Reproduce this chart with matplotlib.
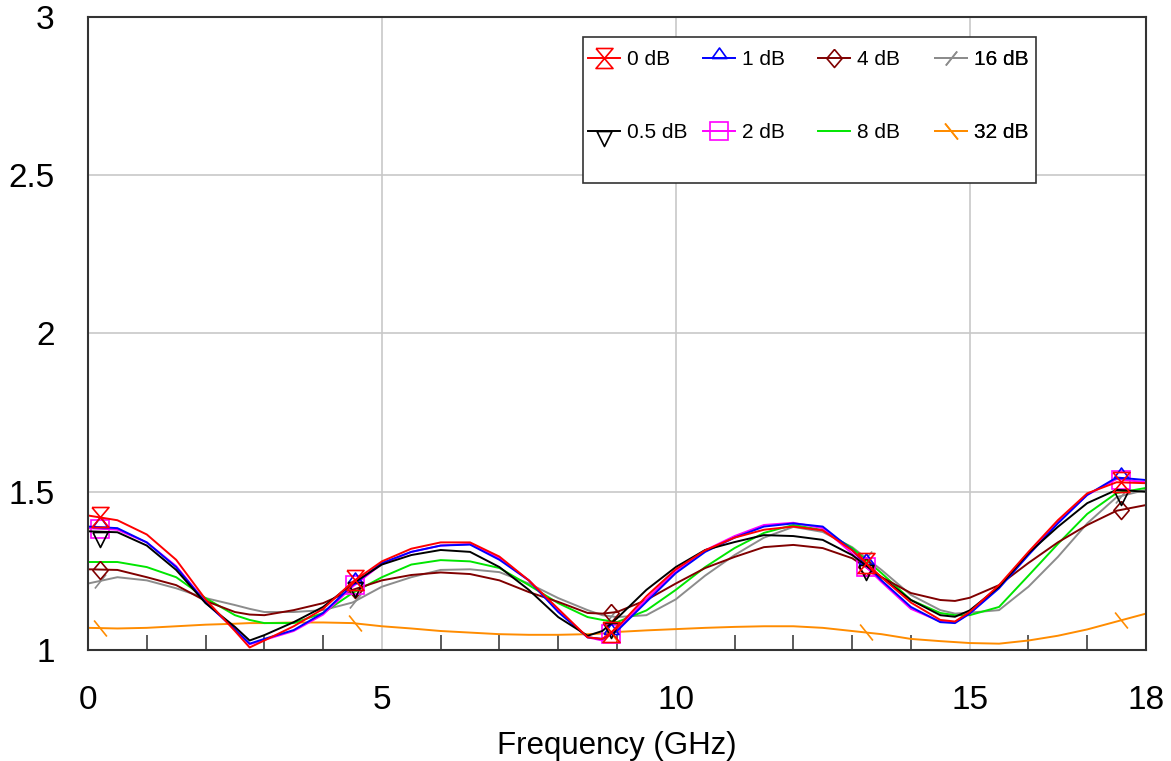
import numpy as np
import matplotlib
matplotlib.use("Agg")
import matplotlib.pyplot as plt
from matplotlib.path import Path
from matplotlib.lines import Line2D
from matplotlib.patches import Rectangle

plt.rcParams['font.family'] = ['Liberation Sans', 'DejaVu Sans']

# ---------------- data ----------------
freq = [0, 0.5, 1, 1.5, 2, 2.5, 2.75, 3, 3.5, 4, 4.5, 5, 5.5, 6, 6.5, 7, 7.5, 8, 8.5, 8.75,
        9, 9.5, 10, 10.5, 11, 11.5, 12, 12.5, 13, 13.5, 14, 14.5, 14.75, 15, 15.5, 16, 16.5, 17, 17.5, 18]

att_0db = [1.425, 1.41, 1.365, 1.285, 1.16, 1.06, 1.008, 1.03, 1.075, 1.13, 1.215, 1.28, 1.32, 1.34, 1.34, 1.295, 1.22, 1.13, 1.04, 1.035,
           1.07, 1.17, 1.255, 1.315, 1.355, 1.38, 1.39, 1.378, 1.315, 1.23, 1.15, 1.095, 1.09, 1.12, 1.205, 1.31, 1.41, 1.495, 1.53, 1.527]
att_05db = [1.375, 1.372, 1.33, 1.253, 1.148, 1.073, 1.03, 1.047, 1.088, 1.136, 1.21, 1.27, 1.30, 1.316, 1.31, 1.262, 1.19, 1.104, 1.045, 1.06,
            1.1, 1.19, 1.262, 1.316, 1.341, 1.363, 1.36, 1.348, 1.30, 1.23, 1.158, 1.11, 1.105, 1.125, 1.2, 1.306, 1.389, 1.464, 1.506, 1.50]
att_1db = [1.39, 1.385, 1.34, 1.262, 1.15, 1.065, 1.02, 1.035, 1.063, 1.117, 1.205, 1.275, 1.31, 1.33, 1.333, 1.285, 1.22, 1.12, 1.04, 1.035,
           1.06, 1.152, 1.243, 1.31, 1.355, 1.39, 1.40, 1.39, 1.316, 1.22, 1.136, 1.088, 1.085, 1.115, 1.195, 1.30, 1.40, 1.49, 1.545, 1.537]
att_2db = [1.385, 1.38, 1.34, 1.265, 1.152, 1.065, 1.018, 1.032, 1.06, 1.112, 1.2, 1.272, 1.31, 1.33, 1.335, 1.29, 1.22, 1.125, 1.04, 1.03,
           1.065, 1.16, 1.25, 1.315, 1.36, 1.395, 1.402, 1.385, 1.305, 1.215, 1.13, 1.09, 1.088, 1.115, 1.2, 1.305, 1.405, 1.49, 1.54, 1.53]
att_4db = [1.255, 1.253, 1.23, 1.205, 1.155, 1.12, 1.112, 1.11, 1.126, 1.148, 1.19, 1.22, 1.237, 1.245, 1.24, 1.22, 1.183, 1.152, 1.117, 1.115,
           1.12, 1.158, 1.21, 1.259, 1.294, 1.325, 1.332, 1.322, 1.29, 1.23, 1.18, 1.158, 1.155, 1.165, 1.205, 1.275, 1.34, 1.395, 1.44, 1.458]
att_8db = [1.278, 1.278, 1.262, 1.23, 1.164, 1.11, 1.095, 1.085, 1.085, 1.117, 1.18, 1.23, 1.27, 1.284, 1.28, 1.259, 1.205, 1.148, 1.104, 1.095,
           1.088, 1.125, 1.19, 1.262, 1.322, 1.37, 1.395, 1.379, 1.322, 1.243, 1.158, 1.117, 1.11, 1.11, 1.136, 1.235, 1.335, 1.43, 1.496, 1.512]
att_16db = [1.21, 1.23, 1.22, 1.195, 1.164, 1.142, 1.13, 1.12, 1.12, 1.126, 1.15, 1.2, 1.23, 1.253, 1.255, 1.246, 1.21, 1.164, 1.126, 1.11,
            1.104, 1.11, 1.16, 1.235, 1.30, 1.355, 1.389, 1.373, 1.325, 1.253, 1.174, 1.126, 1.115, 1.118, 1.126, 1.2, 1.294, 1.40, 1.483, 1.506]
att_32db = [1.07, 1.068, 1.07, 1.075, 1.08, 1.083, 1.085, 1.085, 1.087, 1.087, 1.085, 1.075, 1.068, 1.06, 1.055, 1.05, 1.048, 1.048, 1.05, 1.052,
            1.057, 1.062, 1.066, 1.07, 1.073, 1.075, 1.075, 1.07, 1.06, 1.05, 1.035, 1.028, 1.025, 1.022, 1.02, 1.03, 1.045, 1.065, 1.09, 1.115]

labels = ["0 dB", "0.5 dB", "1 dB", "2 dB", "4 dB", "8 dB", "16 dB", "32 dB"]
marker_freqs = [0.2, 4.54, 8.9, 13.23, 17.57]

x_ticks = [0, 5, 10, 15, 18]
x_tick_labels = ["0", "5", "10", "15", "18"]
y_ticks = [1, 1.5, 2, 2.5, 3]
y_tick_labels = ["1", "1.5", "2", "2.5", "3"]

# ---------------- styles ----------------
hourglass = Path([(-0.85, 1), (0.85, 1), (-0.85, -1), (0.85, -1), (-0.85, 1)])
tri_down = Path([(-0.5, 0), (0.5, 0), (0, -1), (-0.5, 0)])
tri_up = Path([(-0.5, 0), (0.5, 0), (0, 0.7), (-0.5, 0)])
diamond = Path([(0, 1), (0.85, 0), (0, -1), (-0.85, 0), (0, 1)])
slash = Path([(-0.8, -1), (0.8, 1)])
backslash = Path([(-0.8, 1), (0.8, -1)])

px2pt = 72 / 100
styles = [
    dict(color="#ff0000", marker=hourglass, ms=20 * px2pt),
    dict(color="#000000", marker=tri_down, ms=30 * px2pt),
    dict(color="#0000ff", marker=tri_up, ms=21 * px2pt),
    dict(color="#ff00ff", marker="s", ms=18 * px2pt),
    dict(color="#800000", marker=diamond, ms=18 * px2pt),
    dict(color="#00e600", marker=None, ms=0),
    dict(color="#8c8c8c", marker=slash, ms=14 * px2pt),
    dict(color="#ff8c00", marker=backslash, ms=16 * px2pt),
]
series = [att_0db, att_05db, att_1db, att_2db, att_4db, att_8db, att_16db, att_32db]

fig = plt.figure(figsize=(11.71, 7.61), dpi=100)
ax = fig.add_axes([88 / 1171, 111 / 761, 1058 / 1171, 633 / 761])

lw = 1.4
mew = 1.2
order = list(range(len(series)))[::-1]
for i in order:
    vals = series[i]
    st = styles[i]
    assert len(vals) == len(freq)
    ax.plot(freq, vals, color=st["color"], lw=lw, zorder=3 + (len(series) - i) * 0.1)
    if st["marker"] is not None:
        my = np.interp(marker_freqs, freq, vals)
        ax.plot(marker_freqs, my, linestyle="none", marker=st["marker"], ms=st["ms"],
                mfc="none", mec=st["color"], mew=mew, zorder=3.05 + (len(series) - i) * 0.1)

ax.set_xlim(0, 18)
ax.set_ylim(1, 3)
ax.set_xticks(x_ticks)
ax.set_xticklabels(x_tick_labels)
ax.set_yticks(y_ticks)
ax.set_yticklabels(y_tick_labels)
ax.set_xticks([1, 2, 3, 4, 6, 7, 8, 9, 11, 12, 13, 14, 16, 17], minor=True)
ax.tick_params(axis="x", which="minor", direction="in", length=15 * px2pt, width=1.2, color="#404040")
ax.tick_params(axis="x", which="major", length=0, pad=25, labelsize=24)
ax.tick_params(axis="y", which="major", length=0, pad=24, labelsize=24)
ax.grid(True, which="major", color="#c8c8c8", lw=1.2, zorder=0)
ax.set_axisbelow(True)
for sp in ax.spines.values():
    sp.set_color("#333333")
    sp.set_linewidth(1.5)
    sp.set_zorder(10)
ax.set_xlabel("Frequency (GHz)", fontsize=22.5, labelpad=11)

# legend box
ax.add_patch(Rectangle((0.468, 0.7378), 0.428, 0.2306, transform=ax.transAxes,
                       facecolor="white", edgecolor="#333333", lw=1.2, zorder=20))

handles = []
for i, st in enumerate(styles):
    handles.append(Line2D([], [], color=st["color"], lw=lw,
                          marker=st["marker"] if st["marker"] is not None else None,
                          ms=st["ms"], mfc="none", mec=st["color"], mew=mew))

col_x = [0.4726, 0.5813, 0.690, 0.8006]
for c in range(4):
    leg = ax.legend(handles[2 * c:2 * c + 2], labels[2 * c:2 * c + 2], loc="upper left",
                    bbox_to_anchor=(col_x[c], 0.948), bbox_transform=ax.transAxes,
                    frameon=False, fontsize=15, borderpad=0, borderaxespad=0,
                    handlelength=1.55, handletextpad=0.3, labelspacing=2.6, numpoints=1)
    leg.set_zorder(21)
    ax.add_artist(leg)

fig.savefig("out.png", dpi=100)
